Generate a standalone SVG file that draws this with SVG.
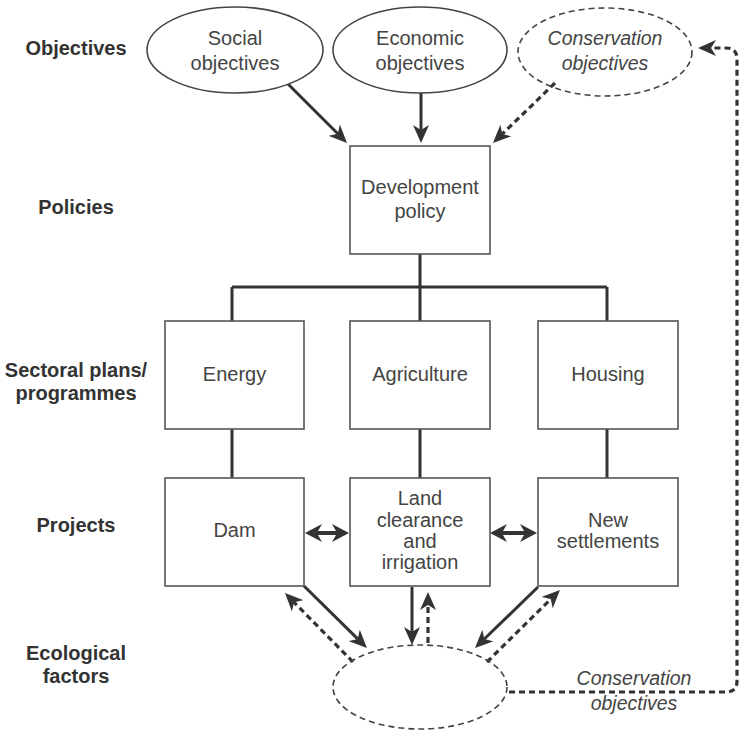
<svg xmlns="http://www.w3.org/2000/svg" width="740" height="731" viewBox="0 0 740 731">
<defs>
<style>
.lbl{font-family:"Liberation Sans",Arial,sans-serif;font-size:20px;font-weight:bold;fill:#333;text-anchor:middle}
.t{font-family:"Liberation Sans",Arial,sans-serif;font-size:20px;fill:#444;text-anchor:middle}
.ti{font-family:"Liberation Sans",Arial,sans-serif;font-size:19.5px;font-style:italic;fill:#444;text-anchor:middle}
.box{fill:#fff;stroke:#555;stroke-width:1.6}
.ell{fill:#fff;stroke:#444;stroke-width:1.6}
.dell{fill:none;stroke:#444;stroke-width:1.6;stroke-dasharray:6 4}
.c{fill:none;stroke:#333;stroke-width:3}
.d{fill:none;stroke:#333;stroke-width:3.2;stroke-dasharray:6 4}
</style>
<marker id="ah" viewBox="0 0 18 16" refX="5" refY="8" markerWidth="18" markerHeight="16" markerUnits="userSpaceOnUse" orient="auto">
<path d="M0,0 L18,8 L0,16 L5,8 z" fill="#333"/>
</marker>
</defs>
<rect width="740" height="731" fill="#fff"/>
<g id="labels">
<text class="lbl" x="76" y="55">Objectives</text>
<text class="lbl" x="76" y="214">Policies</text>
<text class="lbl" x="76" y="377">Sectoral plans/</text>
<text class="lbl" x="76" y="400">programmes</text>
<text class="lbl" x="76" y="532">Projects</text>
<text class="lbl" x="76" y="660">Ecological</text>
<text class="lbl" x="76" y="683">factors</text>
</g>
<g id="connectors">
<path class="c" d="M420,254 V287 M232,287 H607 M232,287 V321 M420,287 V321 M607,287 V321"/>
<path class="c" d="M232,429 V478 M420,429 V478 M607,429 V478"/>
<line class="c" x1="288" y1="84" x2="337.8" y2="133.8" marker-end="url(#ah)"/>
<line class="c" x1="421" y1="93" x2="421" y2="130" marker-end="url(#ah)"/>
<line class="d" x1="555" y1="83" x2="502.3" y2="134" marker-end="url(#ah)"/>
<line class="c" x1="304" y1="586" x2="357.7" y2="638.9" marker-end="url(#ah)"/>
<line class="d" x1="353" y1="662" x2="294.1" y2="602.3" marker-end="url(#ah)"/>
<line class="c" x1="412" y1="587" x2="412" y2="632" marker-end="url(#ah)"/>
<line class="d" x1="428" y1="643" x2="428" y2="605" marker-end="url(#ah)"/>
<line class="c" x1="538" y1="587" x2="484.3" y2="639" marker-end="url(#ah)"/>
<line class="d" x1="487" y1="662" x2="550.7" y2="599.1" marker-end="url(#ah)"/>
<path class="d" d="M509,692 H726 Q737,692 737,681 V59 Q737,48 726,48 H711" marker-end="url(#ah)"/>
<path fill="#333" d="M305,533 L322,524 L318,531 L336,531 L332,524 L349,533 L332,542 L336,535 L318,535 L322,542 Z"/>
<path fill="#333" d="M490,533 L507,524 L503,531 L524,531 L520,524 L537,533 L520,542 L524,535 L503,535 L507,542 Z"/>
</g>
<g id="social">
<ellipse class="ell" cx="235" cy="50" rx="88" ry="43"/>
<text class="t" x="235" y="45">Social</text>
<text class="t" x="235" y="70">objectives</text>
</g>
<g id="economic">
<ellipse class="ell" cx="420" cy="50" rx="87" ry="43"/>
<text class="t" x="420" y="45">Economic</text>
<text class="t" x="420" y="70">objectives</text>
</g>
<g id="conservation">
<ellipse class="dell" cx="605" cy="52" rx="87" ry="44"/>
<text class="ti" x="605" y="45">Conservation</text>
<text class="ti" x="605" y="70">objectives</text>
</g>
<g id="policy">
<rect class="box" x="350" y="146" width="140" height="108"/>
<text class="t" x="420" y="194">Development</text>
<text class="t" x="420" y="218">policy</text>
</g>
<g id="energy">
<rect class="box" x="165" y="321" width="139" height="108"/>
<text class="t" x="234.5" y="381">Energy</text>
</g>
<g id="agriculture">
<rect class="box" x="350" y="321" width="140" height="108"/>
<text class="t" x="420" y="381">Agriculture</text>
</g>
<g id="housing">
<rect class="box" x="538" y="321" width="140" height="108"/>
<text class="t" x="608" y="381">Housing</text>
</g>
<g id="dam">
<rect class="box" x="165" y="478" width="139" height="108"/>
<text class="t" x="234.5" y="537">Dam</text>
</g>
<g id="land">
<rect class="box" x="350" y="478" width="140" height="108"/>
<text class="t" x="420" y="505">Land</text>
<text class="t" x="420" y="527">clearance</text>
<text class="t" x="420" y="548">and</text>
<text class="t" x="420" y="569">irrigation</text>
</g>
<g id="settlements">
<rect class="box" x="538" y="478" width="140" height="108"/>
<text class="t" x="608" y="527">New</text>
<text class="t" x="608" y="548">settlements</text>
</g>
<g id="ecological">
<ellipse class="dell" cx="420" cy="687" rx="87" ry="42"/>
</g>
<g id="loop-label">
<text class="ti" x="634" y="685">Conservation</text>
<text class="ti" x="634" y="710">objectives</text>
</g>
</svg>
